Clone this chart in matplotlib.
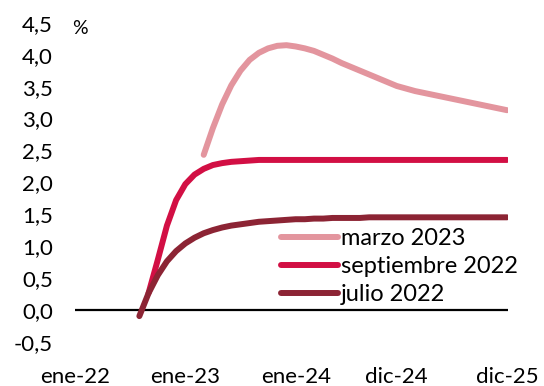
import matplotlib
matplotlib.use("Agg")
import matplotlib.pyplot as plt
import numpy as np

plt.rcParams['font.family'] = ['Lato', 'DejaVu Sans']

# month index 0 = ene-22 ... 47 = dic-25
tick_pos = [0, 12, 24, 35, 47]
tick_labels = ["ene-22", "ene-23", "ene-24", "dic-24", "dic-25"]
y_ticks = [-0.5, 0.0, 0.5, 1.0, 1.5, 2.0, 2.5, 3.0, 3.5, 4.0, 4.5]

julio_start = 7
julio = [-0.10, 0.26, 0.54, 0.76, 0.92, 1.04, 1.13, 1.20, 1.25, 1.29, 1.32,
         1.34, 1.36, 1.38, 1.39, 1.40, 1.41, 1.42, 1.42, 1.43, 1.43, 1.44,
         1.44, 1.44, 1.44, 1.45, 1.45, 1.45, 1.45, 1.45, 1.45, 1.45, 1.45,
         1.45, 1.45, 1.45, 1.45, 1.45, 1.45, 1.45, 1.45]

sept_start = 8
septiembre = [0.26, 0.78, 1.32, 1.72, 1.97, 2.12, 2.21, 2.27, 2.30, 2.32,
              2.33, 2.34, 2.35, 2.35, 2.35, 2.35, 2.35, 2.35, 2.35, 2.35,
              2.35, 2.35, 2.35, 2.35, 2.35, 2.35, 2.35, 2.35, 2.35, 2.35,
              2.35, 2.35, 2.35, 2.35, 2.35, 2.35, 2.35, 2.35, 2.35, 2.35]

marzo_start = 14
marzo = [2.43, 2.85, 3.22, 3.52, 3.75, 3.92, 4.03, 4.10, 4.14, 4.15, 4.13,
         4.10, 4.06, 4.00, 3.94, 3.87, 3.81, 3.75, 3.69, 3.63, 3.57, 3.51,
         3.47, 3.43, 3.40, 3.37, 3.34, 3.31, 3.28, 3.25, 3.22, 3.19, 3.16,
         3.13]

series = [
    ("marzo 2023", marzo_start, marzo, "#E3959E"),
    ("septiembre 2022", sept_start, septiembre, "#D20F44"),
    ("julio 2022", julio_start, julio, "#8C2434"),
]

W, H = 544, 386
fig = plt.figure(figsize=(W / 100, H / 100), dpi=100)
ax = fig.add_axes([75 / W, (H - 348) / H, (508 - 75) / W, (348 - 16.5) / H])

ax.axhline(0, color="black", lw=1.6, zorder=1)
for label, start, vals, color in series:
    x = np.arange(start, start + len(vals))
    ax.plot(x, vals, color=color, lw=4.3, solid_capstyle="round",
            solid_joinstyle="round", label=label, zorder=2)

ax.set_xlim(0, 47.1)
ax.set_ylim(-0.6, 4.6)
ax.set_xticks(tick_pos)
ax.set_xticklabels(tick_labels)
ax.set_yticks(y_ticks)
ax.set_yticklabels([f"{v:.1f}".replace(".", ",") for v in y_ticks])
ax.tick_params(axis="both", length=0, labelsize=16)
ax.tick_params(axis="y", pad=16)
ax.tick_params(axis="x", pad=14)
for s in ax.spines.values():
    s.set_visible(False)

fig.text(72 / W, 1 - 28 / H, "%", fontsize=14, ha="left", va="center")

leg = ax.legend(loc="upper left", bbox_to_anchor=(281 / W, 1 - 228 / H),
                bbox_transform=fig.transFigure, frameon=False, fontsize=17,
                handlelength=2.4, handletextpad=0.15, labelspacing=0.3,
                borderpad=0, borderaxespad=0)

fig.savefig("out.png", dpi=100)
